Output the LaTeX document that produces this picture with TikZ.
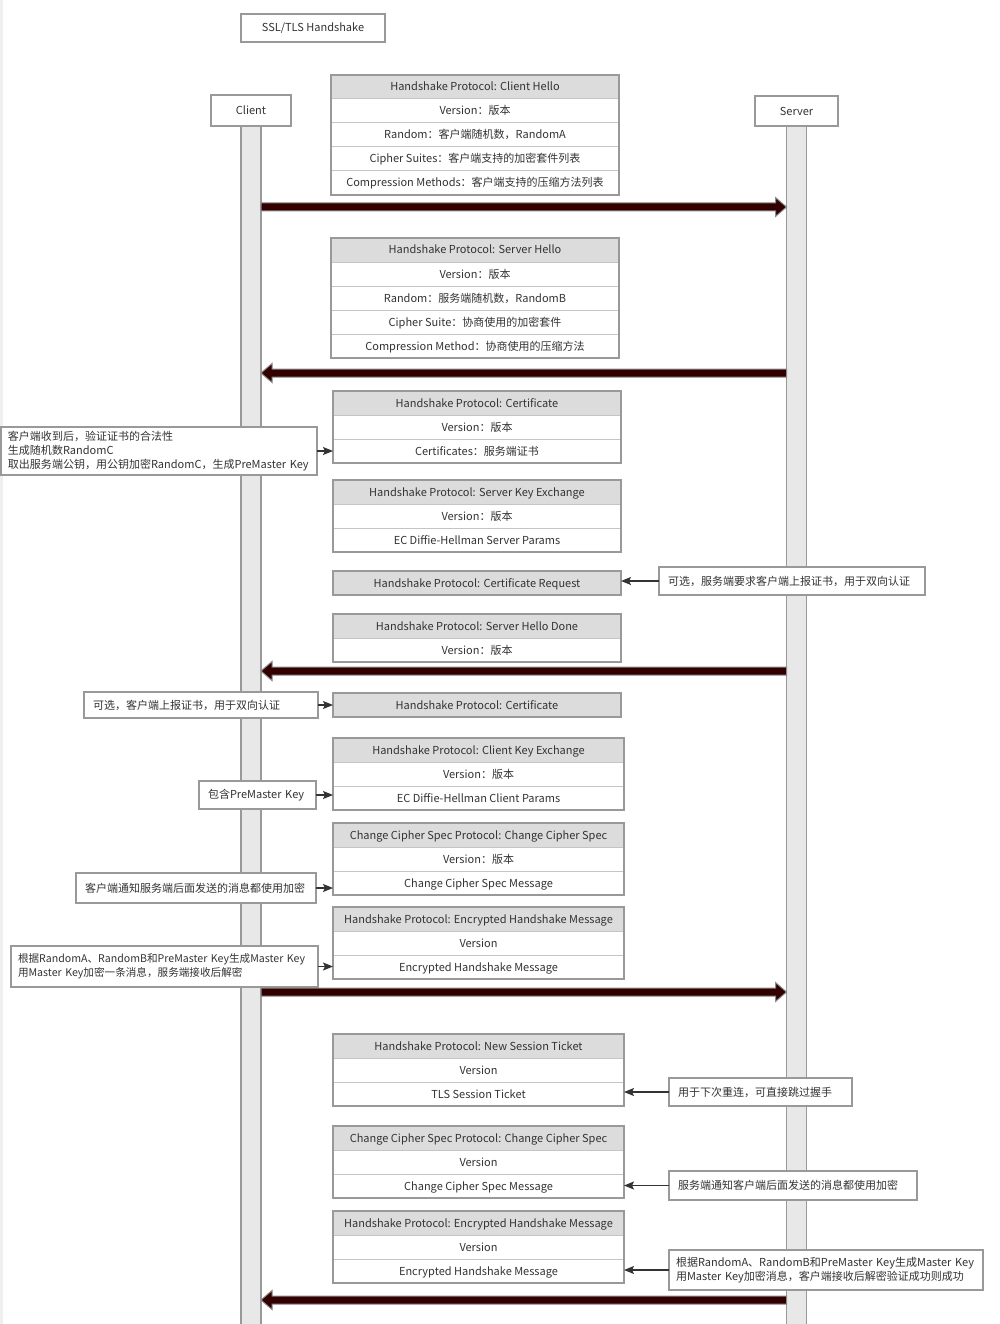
\documentclass[tikz,border=0pt]{standalone}
\usepackage{fontspec}
\setmainfont{Noto Sans CJK SC}
\usetikzlibrary{positioning,calc,arrows.meta}

\tikzset{
  frame/.style={draw=framegray,line width=1.5pt},
  plainbox/.style={frame,fill=white,inner sep=0pt,outer sep=0pt,text=ink},
  hdrrow/.style={draw=rulegray,line width=1pt,fill=hdrfill,inner sep=0pt,outer sep=0pt,
    minimum height=24pt,text height=9pt,text depth=1pt,text=ink},
  fldrow/.style={hdrrow,fill=white},
  notebox/.style={plainbox,anchor=west,align=left,inner xsep=9pt,inner ysep=0pt},
  lifeline/.style={frame,fill=barfill,inner sep=0pt,outer sep=0pt,minimum width=20pt},
  notearrow/.style={draw=ink,line width=1.3pt,-{Stealth[length=10pt,width=8pt,inset=2pt]}},
  msgline/.style={fill=msgfill,draw=msgedge,line width=1pt,line join=miter},
}
% thick message arrow between two named points
\newcommand{\msgarrow}[2]{%
  \coordinate (hb) at ($(#2)!11pt!(#1)$);
  \filldraw[msgline] ($(#1)!4pt!90:(#2)$) -- ($(hb)!4pt!90:(#2)$) -- ($(hb)!9.5pt!90:(#2)$)
    -- (#2) -- ($(hb)!9.5pt!-90:(#2)$) -- ($(hb)!4pt!-90:(#2)$) -- ($(#1)!4pt!-90:(#2)$) -- cycle;}

\begin{document}
\begin{tikzpicture}[x=1pt,y=-1pt,font=\fontsize{11}{14}\selectfont]
  \definecolor{framegray}{HTML}{999999}
  \definecolor{rulegray}{HTML}{C4C4C4}
  \definecolor{hdrfill}{HTML}{DCDCDC}
  \definecolor{barfill}{HTML}{E8E8E8}
  \definecolor{ink}{HTML}{333333}
  \definecolor{msgfill}{HTML}{330000}
  \definecolor{msgedge}{HTML}{8A8A8A}
  \definecolor{stripgray}{HTML}{EFEFEF}
  \useasboundingbox (0,0) rectangle (1000,1324);
  \fill[white] (0,0) rectangle (1000,1324);
  \fill[stripgray] (0,0) rectangle (3,1324);

  % title and lifelines
  \node[plainbox,minimum width=144pt,minimum height=28pt] (title) at (313,28) {SSL/TLS Handshake};
  \node[plainbox,minimum width=80pt,minimum height=31pt] (client) at (251,110.5) {Client};
  \node[plainbox,minimum width=83pt,minimum height=30pt] (server) at (796.5,111) {Server};
  \node[lifeline,minimum height=1210pt,below=0pt of client] (cbar) {};
  \node[lifeline,minimum height=1210pt,below=0pt of server] (sbar) {};

  % client hello
  \begin{scope}[nodes={minimum width=288pt}]
    \node[hdrrow] (chello) at (475,87) {Handshake Protocol: Client Hello};
    \node[fldrow,below=0pt of chello] (chello1) {Version：版本};
    \node[fldrow,below=0pt of chello1] (chello2) {Random：客户端随机数，RandomA};
    \node[fldrow,below=0pt of chello2] (chello3) {Cipher Suites：客户端支持的加密套件列表};
    \node[fldrow,below=0pt of chello3] (chello4) {Compression Methods：客户端支持的压缩方法列表};
    \draw[frame] (chello.north west) rectangle (chello4.south east);
  % server hello
    \node[hdrrow] (shello) at (475,250) {Handshake Protocol: Server Hello};
    \node[fldrow,below=0pt of shello] (shello1) {Version：版本};
    \node[fldrow,below=0pt of shello1] (shello2) {Random：服务端随机数，RandomB};
    \node[fldrow,below=0pt of shello2] (shello3) {Cipher Suite：协商使用的加密套件};
    \node[fldrow,below=0pt of shello3] (shello4) {Compression Method：协商使用的压缩方法};
    \draw[frame] (shello.north west) rectangle (shello4.south east);
  % certificate
    \node[hdrrow] (cert) at (477,403) {Handshake Protocol: Certificate};
    \node[fldrow,below=0pt of cert] (cert1) {Version：版本};
    \node[fldrow,below=0pt of cert1] (cert2) {Certificates：服务端证书};
    \draw[frame] (cert.north west) rectangle (cert2.south east);
  % server key exchange
    \node[hdrrow] (skex) at (477,492) {Handshake Protocol: Server Key Exchange};
    \node[fldrow,below=0pt of skex] (skex1) {Version：版本};
    \node[fldrow,below=0pt of skex1] (skex2) {EC Diffie-Hellman Server Params};
    \draw[frame] (skex.north west) rectangle (skex2.south east);
  % certificate request
    \node[hdrrow] (certreq) at (477,583) {Handshake Protocol: Certificate Request};
    \draw[frame] (certreq.north west) rectangle (certreq.south east);
  % server hello done
    \node[hdrrow] (shdone) at (477,626) {Handshake Protocol: Server Hello Done};
    \node[fldrow,below=0pt of shdone] (shdone1) {Version：版本};
    \draw[frame] (shdone.north west) rectangle (shdone1.south east);
  % client certificate
    \node[hdrrow] (ccert) at (477,705) {Handshake Protocol: Certificate};
    \draw[frame] (ccert.north west) rectangle (ccert.south east);
  \end{scope}

  \begin{scope}[nodes={minimum width=291pt}]
  % client key exchange
    \node[hdrrow] (ckex) at (478.5,750) {Handshake Protocol: Client Key Exchange};
    \node[fldrow,below=0pt of ckex] (ckex1) {Version：版本};
    \node[fldrow,below=0pt of ckex1] (ckex2) {EC Diffie-Hellman Client Params};
    \draw[frame] (ckex.north west) rectangle (ckex2.south east);
  % client change cipher spec
    \node[hdrrow] (cccs) at (478.5,835) {Change Cipher Spec Protocol: Change Cipher Spec};
    \node[fldrow,below=0pt of cccs] (cccs1) {Version：版本};
    \node[fldrow,below=0pt of cccs1] (cccs2) {Change Cipher Spec Message};
    \draw[frame] (cccs.north west) rectangle (cccs2.south east);
  % client finished
    \node[hdrrow] (cfin) at (478.5,919) {Handshake Protocol: Encrypted Handshake Message};
    \node[fldrow,below=0pt of cfin] (cfin1) {Version};
    \node[fldrow,below=0pt of cfin1] (cfin2) {Encrypted Handshake Message};
    \draw[frame] (cfin.north west) rectangle (cfin2.south east);
  % new session ticket
    \node[hdrrow] (ticket) at (478.5,1046) {Handshake Protocol: New Session Ticket};
    \node[fldrow,below=0pt of ticket] (ticket1) {Version};
    \node[fldrow,below=0pt of ticket1] (ticket2) {TLS Session Ticket};
    \draw[frame] (ticket.north west) rectangle (ticket2.south east);
  % server change cipher spec
    \node[hdrrow] (sccs) at (478.5,1138) {Change Cipher Spec Protocol: Change Cipher Spec};
    \node[fldrow,below=0pt of sccs] (sccs1) {Version};
    \node[fldrow,below=0pt of sccs1] (sccs2) {Change Cipher Spec Message};
    \draw[frame] (sccs.north west) rectangle (sccs2.south east);
  % server finished
    \node[hdrrow] (sfin) at (478.5,1223) {Handshake Protocol: Encrypted Handshake Message};
    \node[fldrow,below=0pt of sfin] (sfin1) {Version};
    \node[fldrow,below=0pt of sfin1] (sfin2) {Encrypted Handshake Message};
    \draw[frame] (sfin.north west) rectangle (sfin2.south east);
  \end{scope}

  % notes
  \node[notebox,inner xsep=7pt,text width=302pt,minimum height=48pt] (certnote) at (1,451)
    {客户端收到后，验证证书的合法性\\生成随机数RandomC\\\mbox{取出服务端公钥，用公钥加密RandomC，生成PreMaster Key}};
  \node[notebox,text width=248pt,minimum height=28pt] (reqnote) at (659,581)
    {可选，服务端要求客户端上报证书，用于双向认证};
  \node[notebox,text width=216pt,minimum height=26pt] (ccertnote) at (84,705)
    {可选，客户端上报证书，用于双向认证};
  \node[notebox,text width=99pt,minimum height=28pt] (pmnote) at (199,795)
    {\mbox{包含PreMaster Key}};
  \node[notebox,text width=222pt,minimum height=30pt] (ccsnote) at (76,888)
    {客户端通知服务端后面发送的消息都使用加密};
  \node[notebox,inner xsep=7pt,text width=293pt,minimum height=41pt,
        font=\fontsize{10.6}{14}\selectfont] (cfinnote) at (11,966.5)
    {\mbox{根据RandomA、RandomB和PreMaster Key生成Master Key}\\\mbox{用Master Key加密一条消息，服务端接收后解密}};
  \node[notebox,text width=165pt,minimum height=28pt] (ticketnote) at (669,1092)
    {用于下次重连，可直接跳过握手};
  \node[notebox,text width=230pt,minimum height=29pt] (sccsnote) at (669,1185.5)
    {服务端通知客户端后面发送的消息都使用加密};
  \node[notebox,inner xsep=7pt,text width=300pt,minimum height=40pt] (sfinnote) at (669,1270)
    {\mbox{根据RandomA、RandomB和PreMaster Key生成Master Key}\\\mbox{用Master Key加密消息，客户端接收后解密验证成功则成功}};

  \draw[notearrow] (certnote.east) -- (certnote.east -| cert2.west);
  \draw[notearrow] (ccertnote.east) -- (ccertnote.east -| ccert.west);
  \draw[notearrow] (pmnote.east) -- (pmnote.east -| ckex2.west);
  \draw[notearrow] (ccsnote.east) -- (ccsnote.east -| cccs2.west);
  \draw[notearrow] (cfinnote.east) -- (cfinnote.east -| cfin2.west);
  \draw[notearrow] (reqnote.west) -- (reqnote.west -| certreq.east);
  \draw[notearrow] (ticketnote.west) -- (ticketnote.west -| ticket2.east);
  \draw[notearrow] (sccsnote.west) -- (sccsnote.west -| sccs2.east);
  \draw[notearrow] (sfinnote.west) -- (sfinnote.west -| sfin2.east);

  % messages between the lifelines
  \foreach \n/\y in {1/207,2/373,3/671,4/992,5/1300} {
    \coordinate (c\n) at (cbar.east |- 0,\y);
    \coordinate (s\n) at (sbar.west |- 0,\y);
  }
  \msgarrow{c1}{s1}
  \msgarrow{s2}{c2}
  \msgarrow{s3}{c3}
  \msgarrow{c4}{s4}
  \msgarrow{s5}{c5}
\end{tikzpicture}
\end{document}
